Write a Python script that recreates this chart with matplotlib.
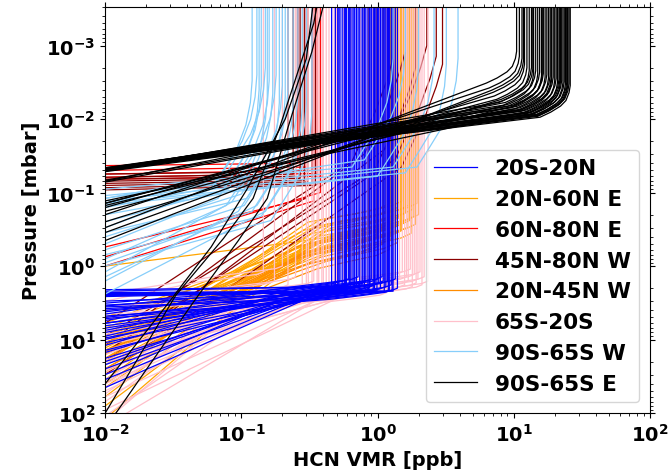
import numpy as np
import matplotlib
matplotlib.use("Agg")
import matplotlib.pyplot as plt

plt.rcParams['font.family'] = 'DejaVu Sans'
plt.rcParams['font.weight'] = 'bold'

P_TOP = 1e-4     # top of the profile grid [mbar]
V_MIN = 0.01     # left edge of the plot [ppb]

# ---- 20S-20N : top VMR [ppb], knee pressure [mbar], pressure where VMR hits 0.01 ppb
eq_top = [0.46, 0.49, 0.51, 0.53, 0.55, 0.57, 0.59, 0.61, 0.63, 0.65, 0.67, 0.70, 0.72, 0.74, 0.77,
          0.80, 0.82, 0.85, 0.88, 0.90, 0.93, 0.96, 0.99, 1.02, 1.05, 1.08, 1.12, 1.15, 1.18, 1.22,
          1.26, 1.30, 1.35, 1.40, 0.58, 0.68, 0.78, 0.95, 1.10, 1.20, 0.62, 0.87, 1.00, 1.28, 0.52]
eq_knee = [2.2, 1.9, 2.1, 1.6, 2.3, 1.8, 2.0, 1.5, 2.2, 1.7, 2.1, 1.9, 1.4, 2.2, 1.8,
           2.0, 1.6, 2.2, 1.9, 1.5, 2.1, 1.8, 2.2, 1.7, 2.0, 1.4, 2.2, 1.9, 1.6, 2.1,
           1.8, 2.2, 1.5, 2.0, 1.9, 2.2, 1.7, 2.1, 1.6, 2.2, 1.8, 2.0, 1.5, 2.1, 1.9]
eq_base = [2.3, 4.0, 6.0, 3.5, 2.5, 9.0, 5.0, 3.2, 2.4, 12, 7.0, 20, 4.5, 2.4, 15,
           3.8, 30, 2.6, 8.0, 5.5, 11, 3.4, 2.4, 25, 6.5, 4.2, 2.4, 9.5, 45, 3.0,
           14, 2.5, 18, 5.2, 2.1, 2.5, 7.5, 3.6, 35, 2.4, 10, 6.0, 22, 4.8, 2.2]

# ---- 20N-60N E
ne_top = [1.10, 1.15, 1.20, 1.24, 1.28, 1.32, 1.36, 1.40, 1.44, 1.48, 1.52, 1.56, 1.60,
          1.64, 1.68, 1.72, 1.76, 1.80, 1.85, 1.90, 1.95, 2.00, 1.25, 1.50, 1.70]
ne_knee = [0.30, 0.18, 0.25, 0.14, 0.35, 0.20, 0.28, 0.16, 0.22, 0.32, 0.13, 0.26, 0.19,
           0.30, 0.15, 0.24, 0.36, 0.17, 0.21, 0.27, 0.14, 0.20, 0.40, 0.33, 0.23]
ne_base = [6.0, 12, 1.0, 20, 8.0, 35, 9.0, 15, 60, 9.0, 16, 25, 120,
           7.0, 18, 13, 10, 45, 14, 5.0, 30, 80, 11, 22, 5.0]

# ---- 60N-80N E
red_top = [0.26, 0.30, 0.33, 0.36, 0.40, 0.30, 0.34, 0.38]
red_knee = [0.040, 0.045, 0.050, 0.055, 0.060, 0.12, 0.13, 0.10]
red_base = [0.043, 0.050, 0.056, 0.062, 0.066, 0.55, 1.00, 0.75]

# ---- 45N-80N W (near-flat drop band + curved high profiles)
dr_top = [0.22, 0.24, 0.25, 0.27, 0.29, 0.31, 0.33, 0.35, 1.3, 1.6, 1.9, 2.3, 2.7, 3.0]
dr_knee = [0.052, 0.056, 0.060, 0.064, 0.068, 0.072, 0.076, 0.080,
           1.5e-3, 1.2e-3, 2e-3, 1e-3, 1.4e-3, 1.8e-3]
dr_base = [0.056, 0.062, 0.066, 0.070, 0.075, 0.080, 0.086, 0.092, 6.0, 12, 9.0, 20, 15, 30]

# ---- 20N-45N W
nw_top = [0.80, 0.86, 0.92, 0.98, 1.04, 1.10, 1.16, 1.22, 1.28, 1.34, 1.40, 0.95]
nw_knee = [0.45, 0.30, 0.55, 0.40, 0.35, 0.50, 0.28, 0.60, 0.42, 0.33, 0.48, 0.38]
nw_base = [12, 20, 9.0, 15, 28, 11, 40, 14, 18, 25, 10, 16]

# ---- 65S-20S
ss_top = [1.45, 1.52, 1.58, 1.63, 1.68, 1.74, 1.80, 1.86, 1.92, 1.98, 2.05, 2.12, 2.20, 2.35,
          0.28, 0.30, 0.31, 0.33, 0.34, 0.36, 0.37, 0.39, 0.40, 0.42, 0.44, 0.46, 0.48, 0.50,
          0.56, 0.64, 0.75, 0.84, 0.92, 1.04, 1.16, 1.32,
          0.145, 0.175, 0.20, 0.22, 0.25]
ss_knee = [1.5, 1.2, 1.8, 1.4, 1.6, 1.1, 1.9, 1.3, 1.7, 1.5, 1.2, 1.8, 1.4, 1.6,
           2.2, 1.8, 2.5, 2.0, 1.6, 2.3, 1.9, 2.6, 2.1, 1.7, 2.4, 2.0, 1.8, 2.2,
           2.3, 2.0, 2.4, 1.9, 2.2, 2.1, 2.3, 2.0,
           1.2, 1.6, 1.0, 1.8, 1.4]
ss_base = [8.0, 15, 5.0, 25, 12, 40, 6.5, 60, 10, 18, 30, 4.0, 90, 20,
           35, 55, 7.0, 130, 22, 9.0, 70, 14, 45, 28, 110, 16, 6.0, 38,
           11, 26, 4.5, 50, 8.5, 150, 19, 3.5,
           3.0, 5.5, 2.4, 8.0, 4.0]

# ---- 90S-65S W
sw_top = [0.12, 0.13, 0.135, 0.14, 0.15, 0.155, 0.16, 0.17, 0.18, 0.19, 0.20, 0.21, 0.22,
          0.24, 0.26, 0.28, 0.30, 0.33, 1.3, 1.6, 2.0, 2.6, 3.2, 3.9]
sw_knee = [3e-3, 2.5e-3, 4e-3, 3.5e-3, 2e-3, 5e-3, 3e-3, 4.5e-3, 2.5e-3, 6e-3, 3.5e-3, 5e-3, 4e-3,
           6e-3, 5e-3, 7e-3, 6e-3, 8e-3, 1.5e-3, 1.2e-3, 2e-3, 1.5e-3, 1.8e-3, 1.5e-3]
sw_base = [0.30, 0.14, 0.50, 0.20, 0.12, 0.80, 0.25, 1.2, 0.16, 1.6, 0.40, 0.60, 0.35,
           0.90, 1.4, 0.70, 2.4, 1.0, 0.09, 0.12, 0.15, 0.11, 0.14, 0.13]

# ---- 90S-65S E
se_top = [10.5, 11.0, 11.5, 12.0, 12.5, 13.0, 13.5, 14.0, 14.5, 15.0, 15.5, 16.0, 16.5, 17.0,
          17.5, 18.0, 18.5, 19.0, 19.5, 20.0, 20.5, 21.0, 21.5, 22.0, 22.5, 23.0, 23.5, 24.0,
          24.5, 25.0, 25.5, 26.0, 11.8, 13.8, 16.2, 18.8, 21.8, 24.8]
se_knee = [1.2e-3, 1.4e-3, 1.5e-3, 1.8e-3, 2.0e-3, 2.2e-3, 2.0e-3, 2.4e-3, 2.2e-3, 2.5e-3,
           2.3e-3, 2.6e-3, 2.4e-3, 2.7e-3, 2.5e-3, 2.8e-3, 2.6e-3, 2.9e-3, 2.7e-3, 3.0e-3,
           2.8e-3, 3.1e-3, 2.9e-3, 3.2e-3, 3.0e-3, 3.2e-3, 3.1e-3, 3.3e-3, 3.2e-3, 3.4e-3,
           3.3e-3, 3.5e-3, 1.6e-3, 2.1e-3, 2.5e-3, 2.8e-3, 3.0e-3, 3.3e-3]
se_base = [0.30, 0.20, 0.45, 0.16, 0.140, 0.050, 0.25, 0.048, 0.070, 0.048,
           0.18, 0.050, 0.050, 0.072, 0.047, 0.049, 0.068, 0.050, 0.046, 0.051,
           0.049, 0.049, 0.130, 0.047, 0.050, 0.048, 0.050, 0.052, 0.046, 0.050,
           0.049, 0.048, 0.35, 0.14, 0.150, 0.051, 0.050, 0.048]
# thin steep 90S-65S E profiles (VMR, pressure pairs)
se_steep_v = [[0.010, 0.033, 0.074, 0.122, 0.19, 0.34, 0.40],
              [0.012, 0.045, 0.095, 0.155, 0.22, 0.33, 0.46],
              [0.010, 0.028, 0.060, 0.110, 0.21, 0.30, 0.36]]
se_steep_p = [[100, 2.5, 0.42, 0.12, 0.0134, 5e-4, 1e-4],
              [100, 3.0, 0.45, 0.12, 0.013, 1.2e-3, 1e-4],
              [40, 3.5, 0.55, 0.09, 0.010, 1.5e-3, 1e-4]]

# bend shape below the knee of each region (VMR factor, pressure factor)
bends = {
    'eq': [(0.9, 1.08), (0.6, 1.2), (0.35, 1.35)],
    'ne': [(0.85, 1.15), (0.55, 1.4), (0.25, 1.8)],
    'red': [],
    'dr': [(0.9, 2.0), (0.75, 5.0), (0.6, 12.0), (0.5, 25.0)],
    'nw': [(0.8, 1.2), (0.5, 1.45), (0.3, 1.8)],
    'ss': [(0.9, 1.08), (0.6, 1.2), (0.35, 1.35)],
    'sw': [(0.97, 2.0), (0.9, 4.0), (0.78, 8.0), (0.62, 16.0), (0.5, 30.0)],
    'se': [(0.98, 1.25), (0.93, 1.6), (0.85, 1.9), (0.72, 2.3), (0.6, 2.7)],
}

groups = {
    'eq': ('20S-20N', 'blue', eq_top, eq_knee, eq_base),
    'ne': ('20N-60N E', 'orange', ne_top, ne_knee, ne_base),
    'red': ('60N-80N E', 'red', red_top, red_knee, red_base),
    'dr': ('45N-80N W', 'darkred', dr_top, dr_knee, dr_base),
    'nw': ('20N-45N W', 'darkorange', nw_top, nw_knee, nw_base),
    'ss': ('65S-20S', 'pink', ss_top, ss_knee, ss_base),
    'sw': ('90S-65S W', 'lightskyblue', sw_top, sw_knee, sw_base),
    'se': ('90S-65S E', 'black', se_top, se_knee, se_base),
}
legend_order = ['eq', 'ne', 'red', 'dr', 'nw', 'ss', 'sw', 'se']
draw_order = ['ne', 'red', 'dr', 'nw', 'ss', 'eq', 'sw', 'se']

fig = plt.figure(figsize=(6.7, 4.77), dpi=100)
ax = fig.add_axes([0.157, 0.132, 0.813, 0.851])

handles = {}
for key in draw_order:
    label, color, tops, knees, bases = groups[key]
    for t, k, b in zip(tops, knees, bases):
        v = [t, t]
        p = [P_TOP, k]
        for fv, fp in bends[key]:
            if k * fp < b * 0.8 and t * fv > V_MIN:
                v.append(t * fv)
                p.append(k * fp)
        v.append(V_MIN)
        p.append(b)
        line, = ax.plot(v, p, color=color, lw=0.9)
    handles[key] = line
    if key == 'se':
        for sv, sp in zip(se_steep_v, se_steep_p):
            ax.plot(sv, sp, color=color, lw=0.9)

ax.set_xscale('log')
ax.set_yscale('log')
ax.set_xlim(1e-2, 1e2)
ax.set_ylim(100, 3e-4)
ax.set_xlabel('HCN VMR [ppb]', fontsize=14, fontweight='bold')
ax.set_ylabel('Pressure [mbar]', fontsize=14, fontweight='bold')
ax.tick_params(which='both', direction='out', top=True, right=True, labelsize=14)
for lab in ax.get_xticklabels() + ax.get_yticklabels():
    lab.set_fontweight('bold')

ax.legend([handles[k] for k in legend_order], [groups[k][0] for k in legend_order],
          loc='lower right', prop={'weight': 'bold', 'size': 15.5})

fig.savefig('out.png', dpi=100)
